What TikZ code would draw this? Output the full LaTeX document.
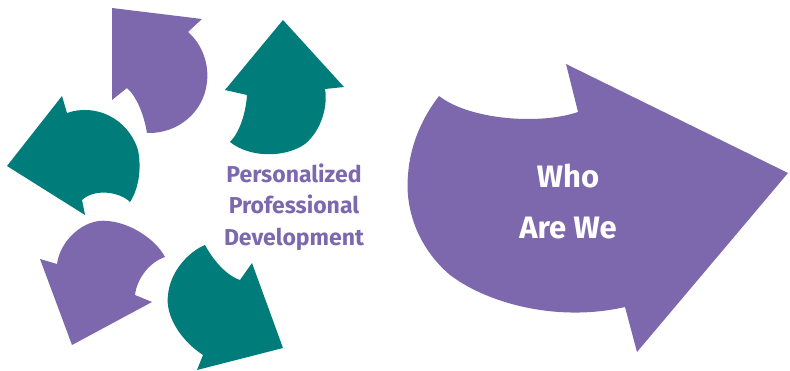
\documentclass[tikz,border=0pt]{standalone}
\usepackage{fontspec}
\setmainfont{Fira Sans}
\usepackage{tikz}
\definecolor{arrowpurple}{RGB}{125,104,174}
\definecolor{arrowteal}{RGB}{0,125,122}

\begin{document}
\begin{tikzpicture}[x=1pt,y=-1pt]
\tikzstyle{purple arrow}=[fill=arrowpurple]
\tikzstyle{teal arrow}=[fill=arrowteal]
\tikzstyle{caption}=[inner sep=0pt,align=center]

\useasboundingbox (0,0) rectangle (790,371);

% top purple
\path[purple arrow] (112,8) -- (202,19) -- (188,32)
  .. controls (203,45) and (209,65) .. (207,82)
  .. controls (204,112) and (178,134) .. (147,133)
  .. controls (144,115) and (137,97) .. (127,88) -- (112,100) -- cycle;

% top right teal
\path[teal arrow] (283,20) -- (344,87) -- (325,89)
  .. controls (328,105) and (322,130) .. (305,144)
  .. controls (285,158) and (250,158) .. (230,142)
  .. controls (240,132) and (246,112) .. (247,95) -- (225,90) -- cycle;

% left teal
\path[teal arrow] (7,166) -- (62,96) -- (67,113)
  .. controls (95,103) and (128,118) .. (138,150)
  .. controls (142,170) and (138,190) .. (130,202)
  .. controls (120,192) and (95,188) .. (82,200) -- (85,215) -- cycle;

% lower purple
\path[purple arrow] (72,345) -- (40,259) -- (57,264)
  .. controls (60,240) and (85,218) .. (107,221)
  .. controls (128,222) and (155,238) .. (165,257)
  .. controls (150,262) and (137,278) .. (135,295) -- (152,302) -- cycle;

% bottom teal
\path[teal arrow] (205,245)
  .. controls (212,258) and (225,275) .. (240,280) -- (252,263) -- (283,348)
  -- (197,370) -- (203,355)
  .. controls (180,340) and (165,315) .. (168,295)
  .. controls (170,272) and (188,252) .. (205,245) -- cycle;

% big arrow
\path[purple arrow] (439,96)
  .. controls (470,120) and (540,125) .. (578,112) -- (566,64) -- (788,173)
  -- (637,352) -- (625,307)
  .. controls (560,322) and (490,305) .. (450,275)
  .. controls (415,245) and (405,205) .. (408,175)
  .. controls (410,145) and (422,118) .. (439,96) -- cycle;

\node[caption,text=arrowpurple,font=\bfseries\fontsize{23}{31.5}\selectfont]
  (ppd) at (294,207) {Personalized\\Professional\\Development};
\node[caption,text=white,font=\bfseries\fontsize{31}{51}\selectfont]
  (who) at (568,202) {Who\\Are We};
\end{tikzpicture}
\end{document}
